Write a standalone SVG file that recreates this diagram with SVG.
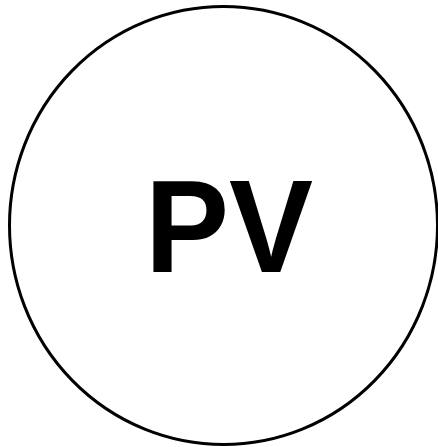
<svg xmlns="http://www.w3.org/2000/svg" width="438" height="447" viewBox="0 0 438 447">
<style>
.ring{fill:none;stroke:#000;stroke-width:3}
.lbl{font-family:"Liberation Sans",Arial,sans-serif;font-weight:bold;font-size:132px;fill:#000}
</style>
<rect width="438" height="447" fill="#fff"/>
<g id="pv">
<ellipse class="ring" cx="223.5" cy="225.5" rx="214" ry="219"/>
<text class="lbl" x="229" y="272" text-anchor="middle" textLength="168" lengthAdjust="spacingAndGlyphs">PV</text>
</g>
</svg>
